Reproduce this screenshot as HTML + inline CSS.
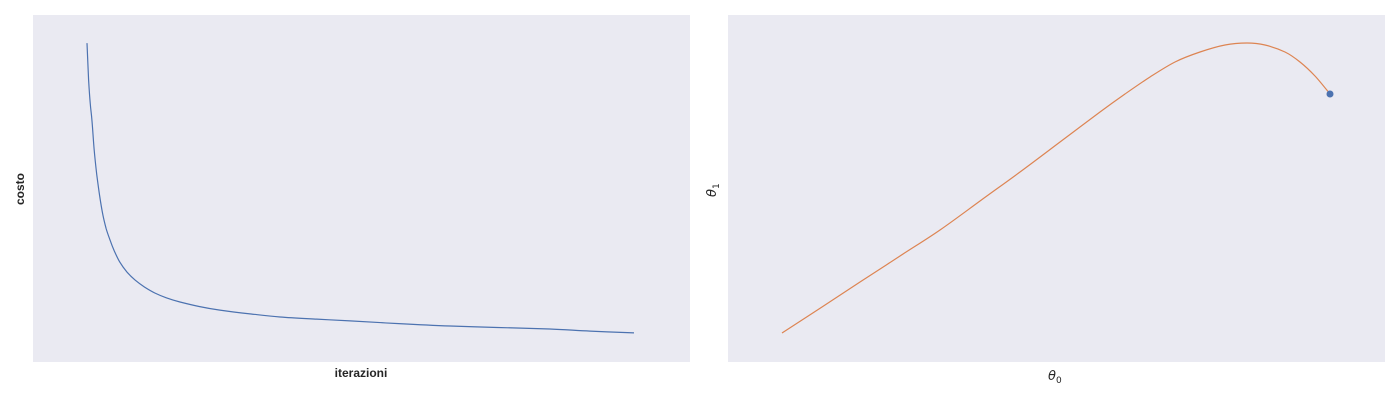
<!DOCTYPE html>
<html><head><meta charset="utf-8"><style>
html,body{margin:0;padding:0;background:#fff;width:1400px;height:400px;overflow:hidden}
svg{display:block;font-family:"Liberation Sans",sans-serif}
</style></head><body>
<svg id="fig" width="1400" height="400">
<rect x="33" y="15" width="657" height="347" fill="#eaeaf2"/>
<rect x="728" y="15" width="657" height="347" fill="#eaeaf2"/>
<text x="361" y="377" text-anchor="middle" font-size="12" font-weight="bold" fill="#262626">iterazioni</text>
<text transform="translate(24,189) rotate(-90)" text-anchor="middle" font-size="12" font-weight="bold" fill="#262626">costo</text>
<text x="1048" y="380" font-size="13" font-style="italic" fill="#262626" font-family="'DejaVu Sans',sans-serif">θ<tspan font-size="9" dy="3" font-style="normal">0</tspan></text>
<text transform="translate(716,197) rotate(-90)" font-size="13" font-style="italic" fill="#262626" font-family="'DejaVu Sans',sans-serif">θ<tspan font-size="9" dy="3" font-style="normal">1</tspan></text>
<path id="costLine" fill="none" stroke="#4c72b0" stroke-width="1.2"/>
<path id="thetaLine" fill="none" stroke="#dd8452" stroke-width="1.2"/>
<circle id="thetaEnd" r="3.5" fill="#4c72b0"/>
</svg>
<script>
const iterations = [0, 3, 6, 9, 13, 18, 23, 29, 35, 42, 50, 60, 73, 88, 105, 124, 145, 170, 205, 243, 300, 353, 420, 481, 570, 664, 750, 846, 920, 1000];
const cost = [10.63, 9.4, 8.6, 8.07, 7.1, 6.23, 5.55, 4.9, 4.45, 4.07, 3.7, 3.33, 3.0, 2.73, 2.5, 2.3, 2.14, 2.0, 1.85, 1.73, 1.6, 1.5, 1.43, 1.37, 1.28, 1.2, 1.15, 1.1, 1.03, 0.97];
const theta0 = [0, 0.4, 0.78, 1.18, 1.58, 1.98, 2.38, 2.78, 3.18, 3.43, 3.68, 3.93, 4.18, 4.43, 4.65, 4.83, 5.03, 5.18, 5.33, 5.48];
const theta1 = [0.29, 0.55, 0.8, 1.06, 1.32, 1.61, 1.9, 2.2, 2.5, 2.68, 2.85, 3.0, 3.1, 3.17, 3.19, 3.17, 3.10, 3.0, 2.86, 2.68];
const cx = v => 87 + v * 0.547;
const cy = v => 362 - v * 30;
const tx = v => 782 + v * 100;
const ty = v => 362 - v * 100;
function smooth(pts){
  let d='M'+pts[0][0].toFixed(1)+','+pts[0][1].toFixed(1);
  for(let i=0;i<pts.length-1;i++){
    const p0=pts[i-1]||pts[i],p1=pts[i],p2=pts[i+1],p3=pts[i+2]||p2;
    const c1=[p1[0]+(p2[0]-p0[0])/6,p1[1]+(p2[1]-p0[1])/6];
    const c2=[p2[0]-(p3[0]-p1[0])/6,p2[1]-(p3[1]-p1[1])/6];
    d+='C'+c1.map(n=>n.toFixed(1)).join(',')+' '+c2.map(n=>n.toFixed(1)).join(',')+' '+p2.map(n=>n.toFixed(1)).join(',');
  }
  return d;
}
document.getElementById('costLine').setAttribute('d', smooth(iterations.map((v,i)=>[cx(v),cy(cost[i])])));
document.getElementById('thetaLine').setAttribute('d', smooth(theta0.map((v,i)=>[tx(v),ty(theta1[i])])));
const e = document.getElementById('thetaEnd');
e.setAttribute('cx', tx(theta0[theta0.length-1]));
e.setAttribute('cy', ty(theta1[theta1.length-1]));
</script>
</body></html>
